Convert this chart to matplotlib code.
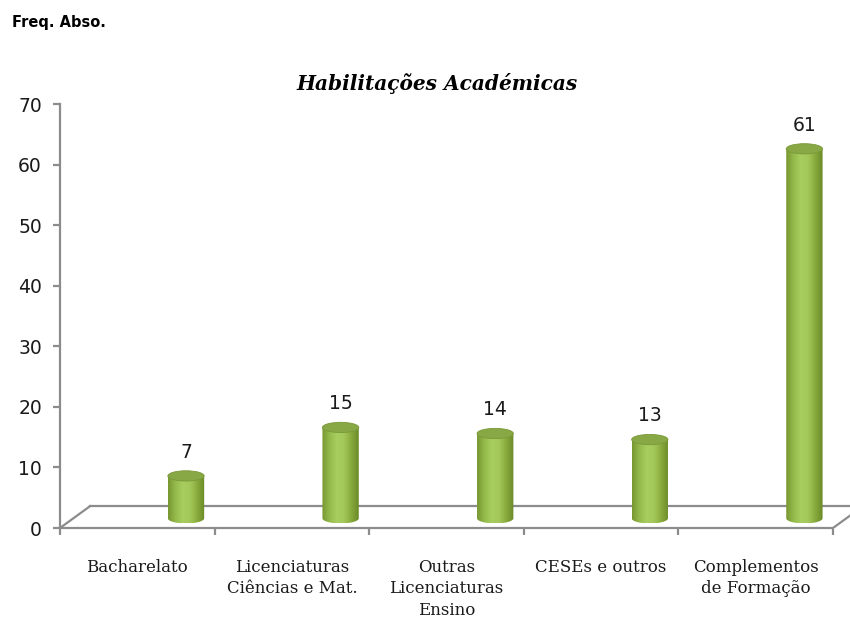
import numpy as np
import matplotlib
matplotlib.use('Agg')
import matplotlib.pyplot as plt
from matplotlib.patches import Ellipse, Polygon
from matplotlib.colors import LinearSegmentedColormap

categories = ['Bacharelato', 'Licenciaturas\nCiências e Mat.',
              'Outras\nLicenciaturas\nEnsino', 'CESEs e outros',
              'Complementos\nde Formação']
values = [7, 15, 14, 13, 61]
y_ticks = [0, 10, 20, 30, 40, 50, 60, 70]
title = 'Habilitações Académicas'
y_title = 'Freq. Abso.'

# geometry of the fake 3D box (category units / value units)
cat_px = 154.6
depth_x, depth_y = 30 / cat_px, 3.6
bar_base = 1.6
bar_shift = 0.315
bar_w = 0.235
ell_h = 1.7
axis_col = '#8c8c8c'

cyl_cmap = LinearSegmentedColormap.from_list(
    'cyl', ['#789832', '#95ba4c', '#a9ce60', '#a3c859', '#88aa3d', '#6a8a28'])
top_col = '#88a846'

fig = plt.figure(figsize=(8.5, 6.21), dpi=100)
ax = fig.add_axes([60 / 850, 1 - 528 / 621, 790 / 850, 424 / 621])

n = len(values)
xmax = 790 / cat_px

# floor of the 3D plot
ax.plot([0, depth_x], [0, depth_y], color=axis_col, lw=1.6, zorder=1)
ax.plot([depth_x, xmax + depth_x], [depth_y, depth_y], color=axis_col, lw=1.6, zorder=1)
ax.plot([n, n + depth_x], [0, depth_y], color=axis_col, lw=1.6, zorder=1)

grad = np.linspace(0, 1, 64).reshape(1, -1)
t = np.linspace(np.pi, 2 * np.pi, 40)
for i, v in enumerate(values):
    xc = i + 0.5 + bar_shift
    x0, x1 = xc - bar_w / 2, xc + bar_w / 2
    top = bar_base + v
    pts = [(x0, top)]
    pts += list(zip(xc + bar_w / 2 * np.cos(t), bar_base + ell_h / 2 * np.sin(t)))
    pts += [(x1, top)]
    body = Polygon(pts, closed=True, fc='none', ec='none', transform=ax.transData)
    ax.add_patch(body)
    im = ax.imshow(grad, cmap=cyl_cmap, aspect='auto', zorder=3,
                   extent=[x0, x1, bar_base - ell_h / 2, top])
    im.set_clip_path(body)
    ax.add_patch(Ellipse((xc, top), bar_w, ell_h, fc=top_col, ec='#7a9838',
                         lw=0.6, zorder=4))
    ax.annotate(str(v), (xc, top), xytext=(0, 17), textcoords='offset points',
                ha='center', va='center', fontsize=13.5, color='#1a1a1a',
                family='DejaVu Sans')

ax.set_xlim(0, xmax)
ax.set_ylim(0, 70)

for s in ['top', 'right']:
    ax.spines[s].set_visible(False)
for s in ['left', 'bottom']:
    ax.spines[s].set_color(axis_col)
    ax.spines[s].set_linewidth(1.6)
ax.spines['bottom'].set_bounds(0, n)
ax.spines['left'].set_bounds(0, 70)

ax.set_yticks(y_ticks)
ax.tick_params(axis='y', direction='out', length=5, width=1.6, color=axis_col,
               labelsize=13.5, labelcolor='#1a1a1a', pad=8)
ax.set_xticks(np.arange(n + 1))
ax.set_xticklabels([])
ax.tick_params(axis='x', which='major', direction='out', length=5, width=1.6,
               color=axis_col)
ax.set_xticks(np.arange(n) + 0.5, minor=True)
ax.set_xticklabels(categories, minor=True, family='DejaVu Serif', fontsize=12,
                   linespacing=1.35, color='#1a1a1a')
ax.tick_params(axis='x', which='minor', length=0, pad=22)

fig.text(437 / 850, 1 - 83 / 621, title, ha='center', va='center',
         family='DejaVu Serif', fontsize=14.5, fontweight='bold', style='italic')
fig.text(12 / 850, 1 - 22 / 621, y_title, ha='left', va='center',
         family='DejaVu Sans', fontsize=10.5, fontweight='bold')

fig.savefig('out.png', dpi=100)
